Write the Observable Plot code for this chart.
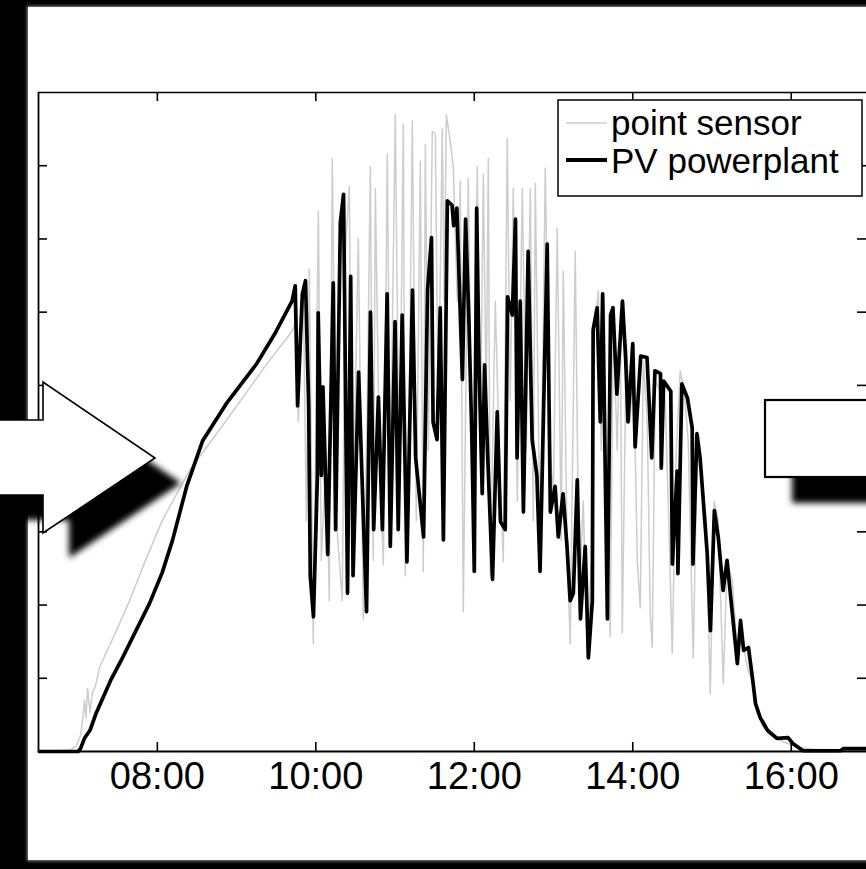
<!DOCTYPE html>
<html><head><meta charset="utf-8">
<script src="https://cdn.jsdelivr.net/npm/d3@7"></script>
<script src="https://cdn.jsdelivr.net/npm/@observablehq/plot@0.6"></script>
<style>
html,body{margin:0;padding:0;background:#000;overflow:hidden;}
#stage{position:relative;width:866px;height:869px;overflow:hidden;background:#000;}
#panel{position:absolute;left:28px;top:7px;width:900px;height:853px;background:#fff;box-shadow:0 0 3px 1px #8a8a8a;}
#chart{position:absolute;left:0;top:0;}
#overlay{position:absolute;left:0;top:0;}
</style></head>
<body>
<div id="stage"><div id="panel"></div><div id="chart"></div>
<svg id="overlay" width="866" height="869" xmlns="http://www.w3.org/2000/svg">
  <defs><filter id="soft" x="-30%" y="-30%" width="160%" height="160%"><feGaussianBlur stdDeviation="3.2"/></filter></defs>
  <g id="deco"></g>
  <g id="legend"></g>
</svg>
</div>
<script>
// ---- data (time in decimal hours, value in W/m²) ----
const seriesNames = ["point sensor", "PV powerplant"];
const xTickHours = [8, 10, 12, 14, 16];
const xTickLabels = ["08:00", "10:00", "12:00", "14:00", "16:00"];
const yTickValues = [100, 200, 300, 400, 500, 600, 700, 800];

const pvReadings = [
[6.51,0],[7.00,0],[7.03,4],[7.08,18],[7.15,29],[7.23,53],[7.41,97],[7.56,128],[7.73,165],[7.90,202],[8.06,244],[8.19,288],[8.37,362],[8.57,424],[8.87,475],[9.25,529],[9.49,572],[9.70,615],
[9.74,636],[9.77,472],[9.83,625],[9.87,643],[9.91,473],[9.93,240],[9.97,184],[10.02,377],[10.03,599],[10.07,377],[10.09,498],[10.15,269],[10.22,640],[10.25,303],[10.31,723],[10.35,761],[10.40,216],[10.44,649],[10.47,240],[10.54,518],[10.59,352],[10.64,191],[10.69,600],[10.73,303],[10.79,484],[10.84,303],[10.90,625],[10.94,280],[11.00,587],[11.04,303],[11.09,596],[11.15,259],[11.22,630],[11.26,401],[11.36,293],[11.41,630],[11.46,702],[11.48,450],[11.53,426],[11.57,606],[11.61,289],[11.66,752],[11.72,746],[11.74,718],[11.78,742],[11.85,508],[11.89,727],[11.93,596],[11.97,426],[12.00,246],[12.03,742],[12.06,528],[12.10,352],[12.13,528],[12.17,401],[12.23,235],[12.29,464],[12.33,314],[12.39,303],[12.42,621],[12.48,596],[12.52,727],[12.54,401],[12.58,615],[12.62,327],[12.68,683],[12.73,426],[12.79,377],[12.83,246],[12.92,693],[12.96,327],[13.02,362],[13.06,293],[13.12,352],[13.17,280],[13.21,206],[13.25,216],[13.30,371],[13.34,181],[13.40,280],[13.44,128],[13.49,206],[13.50,576],[13.55,606],[13.59,450],[13.62,625],[13.68,181],[13.72,596],[13.75,606],[13.80,488],[13.87,615],[13.91,538],[13.94,450],[14.00,557],[14.03,416],[14.10,540],[14.18,538],[14.24,401],[14.28,520],[14.35,516],[14.36,387],[14.39,506],[14.48,492],[14.50,256],[14.56,383],[14.57,243],[14.62,502],[14.69,483],[14.75,442],[14.76,256],[14.81,434],[14.85,401],[14.94,270],[14.98,165],[15.03,329],[15.08,292],[15.14,220],[15.19,261],[15.25,196],[15.32,120],[15.36,179],[15.40,138],[15.46,142],[15.51,101],[15.55,65],[15.61,46],[15.70,29],[15.82,18],[15.96,19],[16.02,11],[16.15,1],[16.62,1],[16.66,4],[16.95,4]
];

const sensorReadings = [
[6.51,0],[6.90,2],[6.98,8],[7.03,22],[7.06,45],[7.08,70],[7.10,46],[7.12,86],[7.15,53],[7.18,80],[7.22,90],[7.27,115],[7.47,162],[7.65,206],[7.85,261],[8.06,315],[8.40,383],[8.87,452],[9.38,529],[9.70,574],[9.75,588],
[9.779,451],[9.842,636],[9.880,315],[9.918,659],[9.968,147],[10.032,738],[10.069,261],[10.133,411],[10.170,206],[10.208,810],[10.259,315],[10.334,206],[10.372,683],[10.423,772],[10.461,261],[10.536,701],[10.599,181],[10.650,479],[10.688,799],[10.725,261],[10.751,769],[10.801,411],[10.852,255],[10.902,816],[10.940,370],[11.003,870],[11.054,342],[11.104,857],[11.129,240],[11.180,479],[11.218,861],[11.268,315],[11.319,806],[11.356,246],[11.382,829],[11.420,411],[11.470,847],[11.508,843],[11.546,451],[11.596,851],[11.621,615],[11.647,870],[11.697,833],[11.735,797],[11.785,615],[11.823,779],[11.861,191],[11.924,783],[11.975,342],[12.038,799],[12.076,411],[12.114,788],[12.151,479],[12.177,810],[12.202,240],[12.265,615],[12.315,411],[12.366,259],[12.416,837],[12.454,479],[12.492,769],[12.543,342],[12.606,769],[12.656,411],[12.707,769],[12.744,315],[12.770,776],[12.833,261],[12.896,797],[12.946,438],[12.997,342],[13.047,715],[13.098,288],[13.123,656],[13.174,261],[13.211,147],[13.274,683],[13.325,206],[13.375,342],[13.426,128],[13.476,261],[13.514,574],[13.565,629],[13.603,411],[13.640,615],[13.678,261],[13.716,157],[13.754,588],[13.804,411],[13.842,602],[13.868,162],[13.918,561],[13.968,451],[14.006,547],[14.057,261],[14.095,196],[14.133,533],[14.183,451],[14.221,187],[14.246,142],[14.284,506],[14.347,492],[14.410,479],[14.448,342],[14.498,134],[14.549,411],[14.599,520],[14.650,492],[14.700,424],[14.763,128],[14.813,411],[14.877,370],[14.927,315],[14.978,79],[15.028,342],[15.079,315],[15.142,93],[15.192,261],[15.256,233],[15.319,138],[15.382,151],[15.457,110],[15.508,97],[15.558,63],[15.634,35],[15.735,22],[15.861,15],[15.987,10],[16.113,5],[16.303,3],[16.946,1]
];

const pv = pvReadings.map(([t, v]) => ({t, v}));
const sensor = sensorReadings.map(([t, v]) => ({t, v}));

const axisStroke = {stroke: "#000", strokeWidth: 1.6};
const chart = Plot.plot({
  width: 866, height: 869,
  marginLeft: 38, marginRight: 0, marginTop: 92, marginBottom: 118,
  style: {background: "transparent", fontFamily: "'Liberation Sans', Arial, sans-serif", overflow: "visible", maxWidth: "none", color: "#000"},
  x: {domain: [6.5, 16.95]},
  y: {domain: [0, 900], axis: null},
  marks: [
    Plot.line(sensor, {x: "t", y: "v", stroke: "#cdcdcd", strokeWidth: 1.5}),
    Plot.line(pv, {x: "t", y: "v", stroke: "#000", strokeWidth: 3.7, strokeLinejoin: "round"}),
    Plot.ruleX(xTickHours, {x: d => d, insetTop: 650, ...axisStroke}),
    Plot.ruleX(xTickHours, {x: d => d, insetBottom: 650, ...axisStroke}),
    Plot.ruleY(yTickValues, {y: d => d, insetRight: 819, ...axisStroke}),
    Plot.ruleY(yTickValues, {y: d => d, insetLeft: 819, ...axisStroke}),
    Plot.ruleY([0], {y: d => d, ...axisStroke, strokeWidth: 1.8}),
    Plot.ruleY([900], {y: d => d, ...axisStroke}),
    Plot.ruleX([6.5], {x: d => d, ...axisStroke, strokeWidth: 1.8}),
    Plot.axisX(xTickHours, {anchor: "bottom", tickSize: 0, tickPadding: 11, label: null,
      tickFormat: d => xTickLabels[xTickHours.indexOf(d)], fontSize: 38, fill: "#000"})
  ]
});
document.getElementById("chart").appendChild(chart);

// ---- decorations (slide shapes over the chart) ----
const deco = d3.select("#deco");
const arrowPts = "-10,420 43,420 43,382 155,458 43,533 43,495 -10,495";
deco.append("polygon").attr("points", arrowPts).attr("transform", "translate(26,25)").attr("fill", "#000").attr("filter", "url(#soft)");
deco.append("rect").attr("x", 792).attr("y", 426).attr("width", 130).attr("height", 77).attr("fill", "#000").attr("filter", "url(#soft)");
deco.append("polygon").attr("points", arrowPts).attr("fill", "#fff").attr("stroke", "#000").attr("stroke-width", 1.6);
deco.append("rect").attr("x", 765).attr("y", 400).attr("width", 130).attr("height", 77).attr("fill", "#fff").attr("stroke", "#000").attr("stroke-width", 2.2);

// ---- legend ----
const lg = d3.select("#legend");
lg.append("rect").attr("x", 558).attr("y", 100).attr("width", 304).attr("height", 96).attr("fill", "#fff").attr("stroke", "#000").attr("stroke-width", 1.5);
const styles = [{stroke: "#cdcdcd", w: 1.5}, {stroke: "#000", w: 4}];
const rows = [{lineY: 123, base: 135}, {lineY: 160, base: 173}];
seriesNames.forEach((name, i) => {
  lg.append("line").attr("x1", 566).attr("x2", 607).attr("y1", rows[i].lineY).attr("y2", rows[i].lineY)
    .attr("stroke", styles[i].stroke).attr("stroke-width", styles[i].w);
  lg.append("text").attr("x", 611).attr("y", rows[i].base).text(name)
    .attr("font-family", "'Liberation Sans', Arial, sans-serif").attr("font-size", 35).attr("fill", "#000");
});
</script>
</body></html>
